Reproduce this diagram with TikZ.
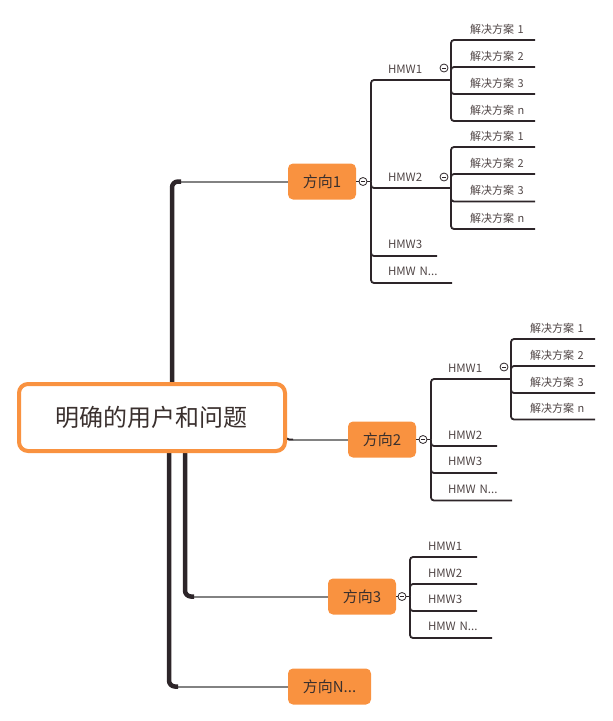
\documentclass[tikz,border=0pt]{standalone}
\usepackage{fontspec}
\setmainfont{Noto Sans CJK SC}
\usetikzlibrary{calc}
\definecolor{org}{RGB}{249,146,64}
\definecolor{ink}{RGB}{45,37,41}
\definecolor{txt}{RGB}{58,48,46}
\definecolor{subtxt}{RGB}{80,70,70}
\definecolor{gline}{RGB}{130,130,130}
\begin{document}
\begin{tikzpicture}[x=1pt,y=-1pt,
  root/.style={draw=org, line width=4pt, rounded corners=9pt, fill=white,
    minimum width=266pt, minimum height=67pt, inner sep=0pt,
    font=\fontsize{24}{28}\selectfont, text=txt},
  dir/.style={fill=org, rounded corners=5pt, minimum height=36pt, inner sep=0pt,
    font=\fontsize{15}{18}\selectfont, text=txt},
  leaf/.style={anchor=south east, inner xsep=0pt, inner ysep=7pt, outer sep=0pt,
    align=left, font=\fontsize{11.5}{13}\selectfont, text=subtxt},
  sol/.style={anchor=south east, inner xsep=0pt, inner ysep=6pt, outer sep=0pt,
    align=left, text width=65pt, font=\fontsize{11}{13}\selectfont, text=subtxt},
  branch/.style={draw=ink, line width=1.8pt, rounded corners=3pt},
  trunk/.style={draw=ink, line width=4.5pt, rounded corners=6pt},
  link/.style={draw=gline, line width=2pt},
  fold/.style={circle, draw=ink, fill=white, line width=0.8pt, minimum size=8pt, inner sep=0pt,
    path picture={\draw[ink, line width=0.6pt]
      ($(path picture bounding box.west)+(2pt,0)$) -- ($(path picture bounding box.east)+(-2pt,0)$);}}
]
\useasboundingbox (0,0) rectangle (613,721);

% main topics
\node[dir, minimum width=68pt] (d1) at (322,181.5) {方向1};
\node[dir, minimum width=68pt] (d2) at (382,439.5) {方向2};
\node[dir, minimum width=68pt] (d3) at (362,596.5) {方向3};
\node[dir, minimum width=83pt] (dN) at (329.5,686.5) {方向N...};

% trunk connectors (drawn before the root so the root covers their ends)
\coordinate (t1) at (181,181.5);
\coordinate (t3) at (194,596.5);
\coordinate (tN) at (178,686.5);
\coordinate (r1) at (172,400);
\coordinate (r3) at (185,430);
\coordinate (rN) at (169,430);
\draw[link] (t1) -- (d1.west);
\draw[link] (t3) -- (d3.west);
\draw[link] (tN) -- (dN.west);
\draw[trunk] (r1) |- (t1);
\draw[trunk] (r3) |- (t3);
\draw[trunk] (rN) |- (tN);
\coordinate (h2a) at (284,430);
\coordinate (h2b) at (293,439.5);
\draw[link] (h2b) -- (d2.west);
\draw[draw=ink, line width=2pt, rounded corners=5pt] (h2a) |- (h2b);

\node[root] (c) at (152,417.5) {明确的用户和问题};

% ---------- 方向1 ----------
\coordinate (j1) at (371,181.5);
\draw[branch] (d1.east) -- (j1);
\node[leaf, text width=63pt] (a1) at (451,80) {HMW1};
\node[leaf, text width=63pt] (a2) at (451,188) {HMW2};
\node[leaf, text width=49pt] (a3) at (437,256) {HMW3};
\node[leaf, text width=64pt] (a4) at (452,283) {HMW N...};
\foreach \n in {a1,a2,a3,a4} \draw[branch] (j1) |- (\n.south east);
\node[fold] (f1) at (363,181.5) {};

\node[sol] (a11) at (535,40) {解决方案 1};
\node[sol] (a12) at (535,67) {解决方案 2};
\node[sol] (a13) at (535,94) {解决方案 3};
\node[sol] (a14) at (535,121) {解决方案 n};
\foreach \n in {a11,a12,a13,a14} \draw[branch] (a1.south east) |- (\n.south east);
\node[fold] (f11) at (444,68) {};

\node[sol] (a21) at (535,147) {解决方案 1};
\node[sol] (a22) at (535,174) {解决方案 2};
\node[sol] (a23) at (535,201.5) {解决方案 3};
\node[sol] (a24) at (535,229) {解决方案 n};
\foreach \n in {a21,a22,a23,a24} \draw[branch] (a2.south east) |- (\n.south east);
\node[fold] (f12) at (444,177) {};

% ---------- 方向2 ----------
\coordinate (j2) at (431,439.5);
\draw[branch] (d2.east) -- (j2);
\node[leaf, text width=63pt] (b1) at (511,379) {HMW1};
\node[leaf, text width=49pt] (b2) at (497,446) {HMW2};
\node[leaf, text width=49pt] (b3) at (497,473) {HMW3};
\node[leaf, text width=64pt] (b4) at (512,500.5) {HMW N...};
\foreach \n in {b1,b2,b3,b4} \draw[branch] (j2) |- (\n.south east);
\node[fold] (f2) at (423,439.5) {};

\node[sol] (b11) at (595,339) {解决方案 1};
\node[sol] (b12) at (595,366) {解决方案 2};
\node[sol] (b13) at (595,393) {解决方案 3};
\node[sol] (b14) at (595,419.5) {解决方案 n};
\foreach \n in {b11,b12,b13,b14} \draw[branch] (b1.south east) |- (\n.south east);
\node[fold] (f21) at (504,367) {};

% ---------- 方向3 ----------
\coordinate (j3) at (410,596.5);
\draw[branch] (d3.east) -- (j3);
\node[leaf, text width=49pt] (c1) at (477,557) {HMW1};
\node[leaf, text width=49pt] (c2) at (477,584) {HMW2};
\node[leaf, text width=49pt] (c3) at (477,611) {HMW3};
\node[leaf, text width=64pt] (c4) at (492,638) {HMW N...};
\foreach \n in {c1,c2,c3,c4} \draw[branch] (j3) |- (\n.south east);
\node[fold] (f3) at (402,596.5) {};
\end{tikzpicture}
\end{document}
